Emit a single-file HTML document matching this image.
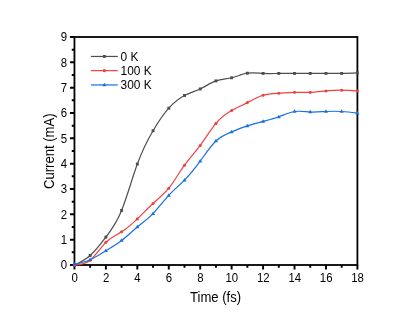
<!DOCTYPE html>
<html>
<head>
<meta charset="utf-8">
<title>Current vs Time</title>
<style>
html,body{margin:0;padding:0;background:#fff;}
body{width:415px;height:318px;overflow:hidden;font-family:"Liberation Sans",sans-serif;}
svg{display:block;will-change:transform;}
</style>
</head>
<body>
<svg width="415" height="318" viewBox="0 0 415 318">
<rect width="415" height="318" fill="#fff"/>
<path d="M74.45,265 v4.5 M90.17,265 v2.7 M105.89,265 v4.5 M121.61,265 v2.7 M137.33,265 v4.5 M153.05,265 v2.7 M168.77,265 v4.5 M184.49,265 v2.7 M200.21,265 v4.5 M215.93,265 v2.7 M231.64,265 v4.5 M247.36,265 v2.7 M263.08,265 v4.5 M278.8,265 v2.7 M294.52,265 v4.5 M310.24,265 v2.7 M325.96,265 v4.5 M341.68,265 v2.7 M357.4,265 v4.5 M74.45,265 h-4.5 M74.45,252.33 h-2.7 M74.45,239.67 h-4.5 M74.45,227 h-2.7 M74.45,214.33 h-4.5 M74.45,201.67 h-2.7 M74.45,189 h-4.5 M74.45,176.33 h-2.7 M74.45,163.67 h-4.5 M74.45,151 h-2.7 M74.45,138.33 h-4.5 M74.45,125.67 h-2.7 M74.45,113 h-4.5 M74.45,100.33 h-2.7 M74.45,87.67 h-4.5 M74.45,75 h-2.7 M74.45,62.33 h-4.5 M74.45,49.67 h-2.7 M74.45,37 h-4.5" stroke="#000" stroke-width="1.95" fill="none"/>
<rect x="74.45" y="37" width="282.95" height="228" fill="none" stroke="#000" stroke-width="1.8"/>
<g font-family="'Liberation Sans', sans-serif" font-size="11.4" fill="#000">
<text transform="translate(74.65,282.4) scale(1,1.08)" text-anchor="middle">0</text>
<text transform="translate(106.09,282.4) scale(1,1.08)" text-anchor="middle">2</text>
<text transform="translate(137.53,282.4) scale(1,1.08)" text-anchor="middle">4</text>
<text transform="translate(168.97,282.4) scale(1,1.08)" text-anchor="middle">6</text>
<text transform="translate(200.41,282.4) scale(1,1.08)" text-anchor="middle">8</text>
<text transform="translate(231.84,282.4) scale(1,1.08)" text-anchor="middle">10</text>
<text transform="translate(263.28,282.4) scale(1,1.08)" text-anchor="middle">12</text>
<text transform="translate(294.72,282.4) scale(1,1.08)" text-anchor="middle">14</text>
<text transform="translate(326.16,282.4) scale(1,1.08)" text-anchor="middle">16</text>
<text transform="translate(357.6,282.4) scale(1,1.08)" text-anchor="middle">18</text>
<text transform="translate(67,269.3) scale(1,1.08)" text-anchor="end">0</text>
<text transform="translate(67,243.97) scale(1,1.08)" text-anchor="end">1</text>
<text transform="translate(67,218.63) scale(1,1.08)" text-anchor="end">2</text>
<text transform="translate(67,193.3) scale(1,1.08)" text-anchor="end">3</text>
<text transform="translate(67,167.97) scale(1,1.08)" text-anchor="end">4</text>
<text transform="translate(67,142.63) scale(1,1.08)" text-anchor="end">5</text>
<text transform="translate(67,117.3) scale(1,1.08)" text-anchor="end">6</text>
<text transform="translate(67,91.97) scale(1,1.08)" text-anchor="end">7</text>
<text transform="translate(67,66.63) scale(1,1.08)" text-anchor="end">8</text>
<text transform="translate(67,41.3) scale(1,1.08)" text-anchor="end">9</text>
</g>
<g font-family="'Liberation Sans', sans-serif" font-size="13.1" fill="#000">
<text transform="translate(215.6,302.35) scale(1,1.06)" text-anchor="middle">Time (fs)</text>
<text transform="translate(53.5,151.25) rotate(-90) scale(1,1.06)" text-anchor="middle">Current (mA)</text>
</g>
<path d="M74.45,265 C79.69,262.54 84.93,260.08 90.17,255.45 C95.41,250.81 100.65,244 105.89,237.13 C111.13,230.27 116.37,223.34 121.61,210.41 C126.85,197.47 132.09,178.51 137.33,164.05 C142.57,149.58 147.81,139.6 153.05,130.73 C158.29,121.87 163.53,114.11 168.77,108.19 C174.01,102.26 179.25,98.18 184.49,95.47 C189.73,92.76 194.97,91.44 200.21,88.93 C205.45,86.43 210.69,82.75 215.93,80.9 C221.16,79.06 226.4,79.04 231.64,77.79 C236.88,76.53 242.12,74.02 247.36,73.18 C252.6,72.33 257.84,73.13 263.08,73.43 C268.32,73.72 273.56,73.51 278.8,73.43 C284.04,73.35 289.28,73.41 294.52,73.43 C299.76,73.45 305,73.44 310.24,73.43 C315.48,73.42 320.72,73.41 325.96,73.43 C331.2,73.45 336.44,73.5 341.68,73.43 C346.92,73.36 352.16,73.17 357.4,72.97" fill="none" stroke="#4e4e4e" stroke-width="1.2" stroke-linejoin="round"/>
<rect x="73" y="263.55" width="2.9" height="2.9" fill="#4e4e4e"/>
<rect x="88.72" y="254" width="2.9" height="2.9" fill="#4e4e4e"/>
<rect x="104.44" y="235.68" width="2.9" height="2.9" fill="#4e4e4e"/>
<rect x="120.16" y="208.96" width="2.9" height="2.9" fill="#4e4e4e"/>
<rect x="135.88" y="162.6" width="2.9" height="2.9" fill="#4e4e4e"/>
<rect x="151.6" y="129.28" width="2.9" height="2.9" fill="#4e4e4e"/>
<rect x="167.32" y="106.74" width="2.9" height="2.9" fill="#4e4e4e"/>
<rect x="183.04" y="94.02" width="2.9" height="2.9" fill="#4e4e4e"/>
<rect x="198.76" y="87.48" width="2.9" height="2.9" fill="#4e4e4e"/>
<rect x="214.48" y="79.45" width="2.9" height="2.9" fill="#4e4e4e"/>
<rect x="230.19" y="76.34" width="2.9" height="2.9" fill="#4e4e4e"/>
<rect x="245.91" y="71.73" width="2.9" height="2.9" fill="#4e4e4e"/>
<rect x="261.63" y="71.98" width="2.9" height="2.9" fill="#4e4e4e"/>
<rect x="277.35" y="71.98" width="2.9" height="2.9" fill="#4e4e4e"/>
<rect x="293.07" y="71.98" width="2.9" height="2.9" fill="#4e4e4e"/>
<rect x="308.79" y="71.98" width="2.9" height="2.9" fill="#4e4e4e"/>
<rect x="324.51" y="71.98" width="2.9" height="2.9" fill="#4e4e4e"/>
<rect x="340.23" y="71.98" width="2.9" height="2.9" fill="#4e4e4e"/>
<rect x="355.95" y="71.52" width="2.9" height="2.9" fill="#4e4e4e"/>
<path d="M74.45,265 C79.69,264.75 84.93,264.49 90.17,260.19 C95.41,255.88 100.65,247.52 105.89,242.33 C111.13,237.13 116.37,235.1 121.61,231.81 C126.85,228.52 132.09,223.98 137.33,218.89 C142.57,213.81 147.81,208.2 153.05,203.44 C158.29,198.68 163.53,194.79 168.77,188.24 C174.01,181.69 179.25,172.49 184.49,165.19 C189.73,157.89 194.97,152.49 200.21,145.43 C205.45,138.36 210.69,129.62 215.93,123.39 C221.16,117.16 226.4,113.44 231.64,110.47 C236.88,107.49 242.12,105.27 247.36,102.61 C252.6,99.96 257.84,96.87 263.08,95.27 C268.32,93.66 273.56,93.54 278.8,93.24 C284.04,92.94 289.28,92.45 294.52,92.35 C299.76,92.26 305,92.55 310.24,92.35 C315.48,92.15 320.72,91.46 325.96,90.96 C331.2,90.46 336.44,90.17 341.68,90.2 C346.92,90.23 352.16,90.6 357.4,90.96" fill="none" stroke="#F14040" stroke-width="1.2" stroke-linejoin="round"/>
<circle cx="74.45" cy="265" r="1.55" fill="#F14040"/>
<circle cx="90.17" cy="260.19" r="1.55" fill="#F14040"/>
<circle cx="105.89" cy="242.33" r="1.55" fill="#F14040"/>
<circle cx="121.61" cy="231.81" r="1.55" fill="#F14040"/>
<circle cx="137.33" cy="218.89" r="1.55" fill="#F14040"/>
<circle cx="153.05" cy="203.44" r="1.55" fill="#F14040"/>
<circle cx="168.77" cy="188.24" r="1.55" fill="#F14040"/>
<circle cx="184.49" cy="165.19" r="1.55" fill="#F14040"/>
<circle cx="200.21" cy="145.43" r="1.55" fill="#F14040"/>
<circle cx="215.93" cy="123.39" r="1.55" fill="#F14040"/>
<circle cx="231.64" cy="110.47" r="1.55" fill="#F14040"/>
<circle cx="247.36" cy="102.61" r="1.55" fill="#F14040"/>
<circle cx="263.08" cy="95.27" r="1.55" fill="#F14040"/>
<circle cx="278.8" cy="93.24" r="1.55" fill="#F14040"/>
<circle cx="294.52" cy="92.35" r="1.55" fill="#F14040"/>
<circle cx="310.24" cy="92.35" r="1.55" fill="#F14040"/>
<circle cx="325.96" cy="90.96" r="1.55" fill="#F14040"/>
<circle cx="341.68" cy="90.2" r="1.55" fill="#F14040"/>
<circle cx="357.4" cy="90.96" r="1.55" fill="#F14040"/>
<path d="M74.45,264.24 C79.69,263.11 84.93,261.98 90.17,259.68 C95.41,257.38 100.65,253.9 105.89,250.69 C111.13,247.47 116.37,244.53 121.61,240.5 C126.85,236.48 132.09,231.38 137.33,227 C142.57,222.62 147.81,218.98 153.05,213.57 C158.29,208.17 163.53,201.01 168.77,195.33 C174.01,189.66 179.25,185.46 184.49,180.13 C189.73,174.8 194.97,168.33 200.21,161.13 C205.45,153.93 210.69,146 215.93,140.99 C221.16,135.98 226.4,133.9 231.64,131.82 C236.88,129.75 242.12,127.68 247.36,125.92 C252.6,124.16 257.84,122.72 263.08,121.36 C268.32,120 273.56,118.73 278.8,116.8 C284.04,114.87 289.28,112.27 294.52,111.48 C299.76,110.69 305,111.72 310.24,111.99 C315.48,112.25 320.72,111.75 325.96,111.48 C331.2,111.21 336.44,111.17 341.68,111.48 C346.92,111.79 352.16,112.46 357.4,113.13" fill="none" stroke="#1A6FDF" stroke-width="1.2" stroke-linejoin="round"/>
<path d="M74.45,262.09 L76.49,265.57 L72.41,265.57 Z" fill="#1A6FDF"/>
<path d="M90.17,257.53 L92.21,261.01 L88.13,261.01 Z" fill="#1A6FDF"/>
<path d="M105.89,248.54 L107.93,252.02 L103.85,252.02 Z" fill="#1A6FDF"/>
<path d="M121.61,238.35 L123.65,241.84 L119.57,241.84 Z" fill="#1A6FDF"/>
<path d="M137.33,224.85 L139.37,228.33 L135.29,228.33 Z" fill="#1A6FDF"/>
<path d="M153.05,211.42 L155.09,214.91 L151,214.91 Z" fill="#1A6FDF"/>
<path d="M168.77,193.18 L170.81,196.67 L166.72,196.67 Z" fill="#1A6FDF"/>
<path d="M184.49,177.98 L186.53,181.47 L182.44,181.47 Z" fill="#1A6FDF"/>
<path d="M200.21,158.98 L202.25,162.47 L198.16,162.47 Z" fill="#1A6FDF"/>
<path d="M215.93,138.84 L217.97,142.33 L213.88,142.33 Z" fill="#1A6FDF"/>
<path d="M231.64,129.67 L233.69,133.16 L229.6,133.16 Z" fill="#1A6FDF"/>
<path d="M247.36,123.77 L249.41,127.25 L245.32,127.25 Z" fill="#1A6FDF"/>
<path d="M263.08,119.21 L265.13,122.69 L261.04,122.69 Z" fill="#1A6FDF"/>
<path d="M278.8,114.65 L280.85,118.13 L276.76,118.13 Z" fill="#1A6FDF"/>
<path d="M294.52,109.33 L296.56,112.81 L292.48,112.81 Z" fill="#1A6FDF"/>
<path d="M310.24,109.84 L312.28,113.32 L308.2,113.32 Z" fill="#1A6FDF"/>
<path d="M325.96,109.33 L328,112.81 L323.92,112.81 Z" fill="#1A6FDF"/>
<path d="M341.68,109.33 L343.72,112.81 L339.64,112.81 Z" fill="#1A6FDF"/>
<path d="M357.4,110.98 L359.44,114.46 L355.36,114.46 Z" fill="#1A6FDF"/>
<g font-family="'Liberation Sans', sans-serif" font-size="11.9" fill="#000">
<path d="M90.9,56.45 H117.8" stroke="#4e4e4e" stroke-width="1.2"/>
<rect x="102.9" y="55" width="2.9" height="2.9" fill="#4e4e4e"/>
<text x="120.55" y="60.7">0 K</text>
<path d="M90.9,70.65 H117.8" stroke="#F14040" stroke-width="1.2"/>
<circle cx="104.35" cy="70.65" r="1.55" fill="#F14040"/>
<text x="120.55" y="74.9">100 K</text>
<path d="M90.9,84.95 H117.8" stroke="#1A6FDF" stroke-width="1.2"/>
<path d="M104.35,82.8 L106.39,86.28 L102.31,86.28 Z" fill="#1A6FDF"/>
<text x="120.55" y="89.2">300 K</text>
</g>
</svg>
</body>
</html>
